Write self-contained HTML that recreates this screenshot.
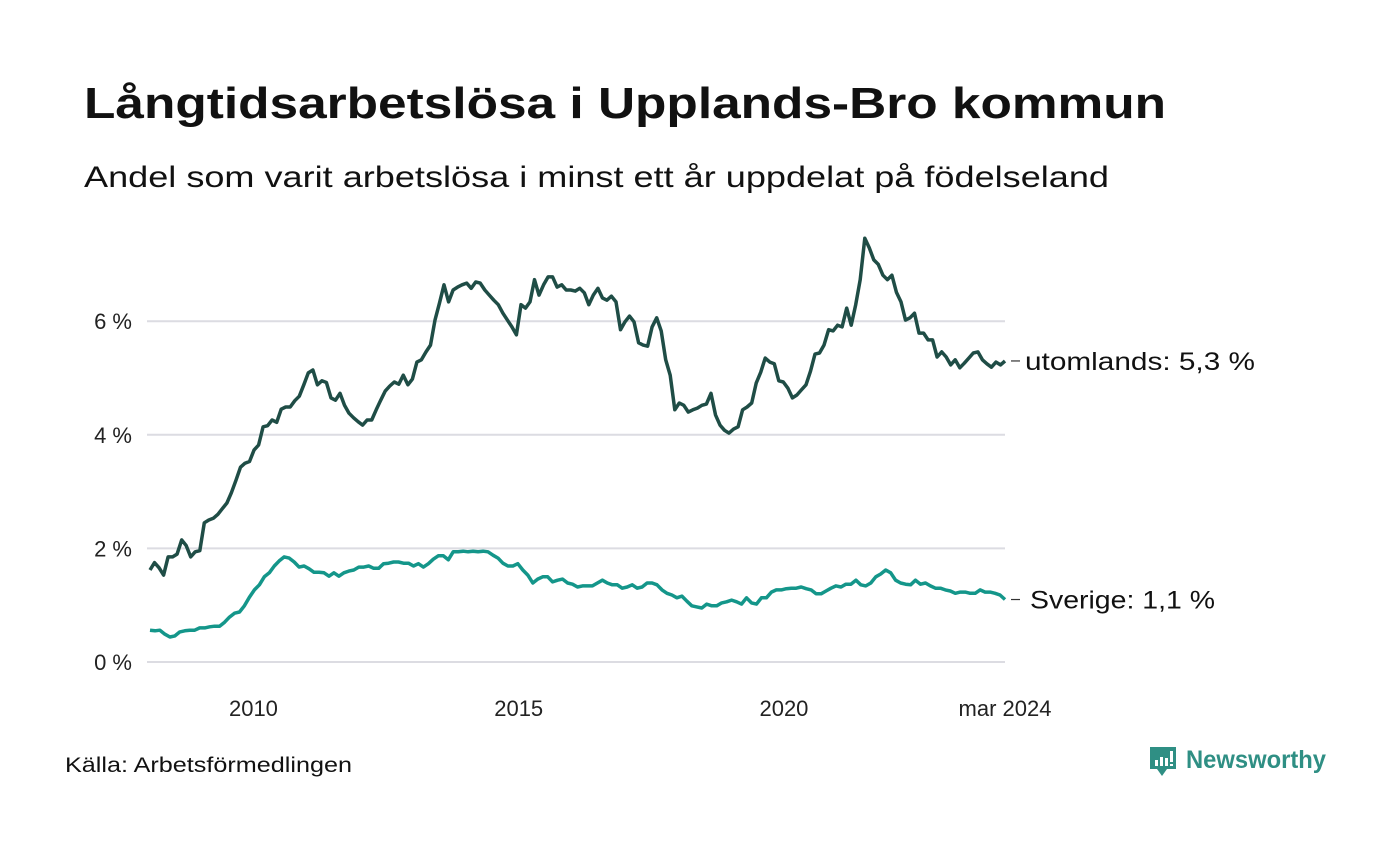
<!DOCTYPE html>
<html><head><meta charset="utf-8"><style>
body{margin:0;background:#fff;}
svg text{font-family:"Liberation Sans","DejaVu Sans",sans-serif;}
</style></head><body>
<svg width="1400" height="840" viewBox="0 0 1400 840">
<text x="84" y="118" font-size="44" font-weight="bold" fill="#111" textLength="1082" lengthAdjust="spacingAndGlyphs">Långtidsarbetslösa i Upplands-Bro kommun</text>
<text x="84" y="187" font-size="30" fill="#111" textLength="1025" lengthAdjust="spacingAndGlyphs">Andel som varit arbetslösa i minst ett år uppdelat på födelseland</text>
<g id="grid"></g><g id="yt"></g><g id="xt"></g><g id="lines"></g><g id="labels"></g>
<text x="65" y="772" font-size="21" fill="#111" textLength="287" lengthAdjust="spacingAndGlyphs">Källa: Arbetsförmedlingen</text>
<g>
<path d="M1150 747 h26 v22 h-9 l-5 7 l-5 -7 h-7 z" fill="#2f8f84"/>
<rect x="1155" y="760" width="3" height="6" fill="#fff"/><rect x="1160" y="757" width="3" height="9" fill="#fff"/><rect x="1165" y="758" width="3" height="8" fill="#fff"/><rect x="1170" y="751" width="3" height="11" fill="#fff"/><rect x="1170" y="764" width="3" height="2" fill="#fff"/>
<text x="1186" y="768" font-size="25" font-weight="bold" fill="#2f8f84" textLength="140" lengthAdjust="spacingAndGlyphs">Newsworthy</text>
</g>
</svg>
<script>
const yTicks=[0,2,4,6];
const yTickLabels=["0 %","2 %","4 %","6 %"];
const xTickYears=[2010,2015,2020];
const xTickLabels=["2010","2015","2020","mar 2024"];
const utomlands=[1.62,1.75,1.66,1.53,1.85,1.85,1.9,2.15,2.05,1.85,1.94,1.96,2.45,2.5,2.53,2.6,2.7,2.8,2.98,3.2,3.43,3.5,3.53,3.73,3.82,4.14,4.16,4.26,4.22,4.45,4.49,4.49,4.6,4.68,4.88,5.09,5.14,4.88,4.95,4.92,4.65,4.61,4.73,4.52,4.38,4.3,4.23,4.17,4.26,4.26,4.44,4.61,4.77,4.86,4.93,4.89,5.05,4.88,4.98,5.28,5.32,5.46,5.58,6.02,6.32,6.64,6.34,6.55,6.6,6.64,6.67,6.58,6.69,6.67,6.55,6.46,6.37,6.29,6.14,6.02,5.9,5.76,6.29,6.23,6.34,6.73,6.46,6.64,6.78,6.78,6.6,6.64,6.55,6.55,6.53,6.58,6.5,6.29,6.46,6.58,6.41,6.37,6.44,6.34,5.85,5.99,6.09,5.99,5.62,5.58,5.56,5.9,6.06,5.83,5.32,5.05,4.44,4.56,4.52,4.4,4.44,4.47,4.52,4.54,4.73,4.35,4.17,4.08,4.03,4.1,4.14,4.44,4.49,4.56,4.91,5.1,5.35,5.28,5.25,4.95,4.93,4.82,4.65,4.7,4.79,4.88,5.12,5.42,5.44,5.58,5.85,5.83,5.93,5.9,6.23,5.93,6.29,6.73,7.46,7.29,7.08,7.0,6.81,6.73,6.81,6.51,6.34,6.02,6.06,6.14,5.79,5.79,5.67,5.67,5.37,5.46,5.37,5.23,5.32,5.18,5.26,5.35,5.44,5.46,5.32,5.25,5.19,5.28,5.23,5.3];
const sverige=[0.56,0.55,0.56,0.49,0.44,0.46,0.53,0.55,0.56,0.56,0.6,0.6,0.62,0.63,0.63,0.7,0.79,0.86,0.88,0.99,1.14,1.27,1.36,1.5,1.57,1.69,1.78,1.85,1.83,1.76,1.67,1.69,1.64,1.58,1.58,1.57,1.51,1.57,1.51,1.57,1.6,1.62,1.67,1.67,1.69,1.65,1.65,1.73,1.74,1.76,1.76,1.74,1.74,1.69,1.73,1.67,1.73,1.81,1.87,1.87,1.8,1.94,1.94,1.95,1.94,1.95,1.94,1.95,1.94,1.88,1.83,1.74,1.69,1.69,1.73,1.62,1.53,1.39,1.46,1.5,1.5,1.41,1.44,1.46,1.39,1.37,1.32,1.34,1.34,1.34,1.39,1.44,1.39,1.36,1.36,1.3,1.32,1.36,1.3,1.32,1.39,1.39,1.36,1.27,1.21,1.18,1.13,1.16,1.07,0.99,0.97,0.95,1.02,0.99,0.99,1.04,1.06,1.09,1.06,1.02,1.13,1.04,1.02,1.13,1.13,1.23,1.27,1.27,1.29,1.3,1.3,1.32,1.29,1.27,1.2,1.2,1.25,1.3,1.34,1.32,1.37,1.37,1.44,1.36,1.34,1.39,1.5,1.55,1.62,1.57,1.44,1.39,1.37,1.36,1.44,1.37,1.39,1.34,1.3,1.3,1.27,1.25,1.21,1.23,1.23,1.21,1.21,1.27,1.23,1.23,1.21,1.18,1.1];
const NS="http://www.w3.org/2000/svg";
const X0=150,X1=1005,Y0=662,PPU=56.8;
const startYear=2008.05,endYear=2024+2/12;
function xDate(yr){return X0+(yr-startYear)/(endYear-startYear)*(X1-X0);}
function xIdx(i,n){return X0+i/(n-1)*(X1-X0);}
function y(v){return Y0-v*PPU;}
function mk(tag,attrs,parent,txt){const e=document.createElementNS(NS,tag);for(const k in attrs)e.setAttribute(k,attrs[k]);if(txt!==undefined)e.textContent=txt;document.getElementById(parent).appendChild(e);return e;}
yTicks.forEach((v,i)=>{
  const g=mk('line',{x1:147,x2:1005,y1:y(v),y2:y(v),stroke:'#dcdce2','stroke-width':2},'grid');
  
  
  const t=mk('text',{x:132,y:y(v)+8,'font-size':22,'text-anchor':'end',fill:'#222'},'yt',yTickLabels[i]);
  
  
});
xTickYears.forEach((yr,i)=>{
  const t=mk('text',{x:xDate(yr),y:716,'font-size':22,'text-anchor':'middle',fill:'#222'},'xt',xTickLabels[i]);
  
  
});
const tl=mk('text',{x:X1,y:716,'font-size':22,'text-anchor':'middle',fill:'#222'},'xt',xTickLabels[3]);


function drawLine(arr,col,name,label,lx,lw){
  const pts=arr.map((v,i)=>xIdx(i,arr.length).toFixed(1)+','+y(v).toFixed(1)).join(' ');
  const p=mk('polyline',{points:pts,fill:'none',stroke:col,'stroke-width':3.5,'stroke-linejoin':'round'},'lines');
  
  
  const last=y(arr[arr.length-1]);
  const l=mk('line',{x1:1011,x2:1020,y1:last,y2:last,stroke:'#333','stroke-width':1.2},'labels');
  
  
  const t=mk('text',{x:lx,y:last+9,'font-size':25,fill:'#111',textLength:lw,lengthAdjust:'spacingAndGlyphs'},'labels',label+': '+arr[arr.length-1].toFixed(1).replace('.',',')+' %');
  
  
}
drawLine(utomlands,'#1f4d46','utomlands-line','utomlands',1025,230);
drawLine(sverige,'#14968a','sverige-line','Sverige',1030,185);
</script>
</body></html>
